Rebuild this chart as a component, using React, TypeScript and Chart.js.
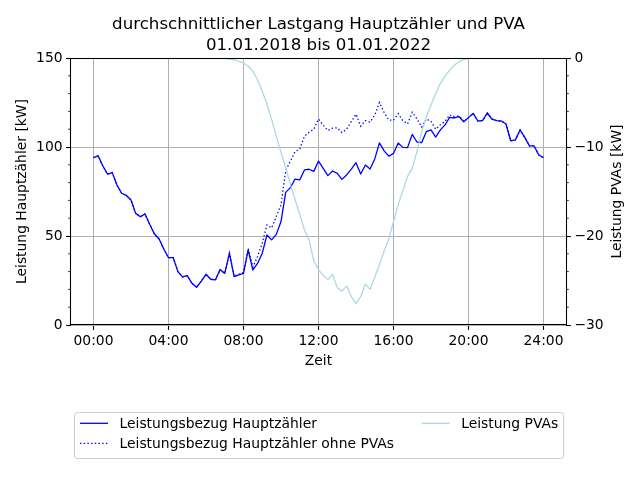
import React, { useEffect, useRef } from 'react';
import { Chart, registerables } from 'chart.js';

Chart.register(...registerables);

// ---- texts ----
const TITLE_LINES = ['durchschnittlicher Lastgang Hauptzähler und PVA', '01.01.2018 bis 01.01.2022'];
const X_LABEL = 'Zeit';
const Y_LABEL_LEFT = 'Leistung Hauptzähler [kW]';
const Y_LABEL_RIGHT = 'Leistung PVAs [kW]';
const SERIES_NAMES = [
  'Leistungsbezug Hauptzähler',
  'Leistungsbezug Hauptzähler ohne PVAs',
  'Leistung PVAs',
];

// ---- ticks (hours / kW) ----
const X_TICKS = [0, 4, 8, 12, 16, 20, 24];
const LEFT_MAJOR_STEP = 50;
const RIGHT_MAJOR_STEP = 10;

// ---- data: 15-minute values from 00:00 to 24:00 ----
const hauptzaehler = [
  94, 95, 89.3, 84.8, 85.6, 78.6, 74, 72.8, 70.2, 62.7,
  60.8, 62.4, 56.5, 51.1, 48.3, 42.7, 37.8, 37.9, 30, 27,
  27.7, 23.4, 21.2, 24.7, 28.5, 25.7, 25.3, 31.1, 29, 40.3,
  27.2, 28.1, 29, 42.1, 30.9, 34.6, 40.3, 50.6, 47.8, 50.9,
  58.1, 74.5, 77.2, 82, 81.5, 87.1, 87.5, 86.3, 92.1, 88,
  83.9, 86.5, 85.2, 81.8, 84.3, 87.6, 91.2, 84.8, 89.9, 87.6,
  93.3, 102.3, 97.8, 94.9, 96.4, 102.2, 99.8, 99.7, 107.1, 102.8,
  102.4, 108.6, 109.6, 105.6, 109.6, 112.4, 116.7, 116.3, 117, 114.2,
  116.5, 118.9, 114.6, 114.8, 119.1, 115.7, 114.8, 114.6, 112.9, 103.5,
  104, 109.6, 105.4, 100.6, 100.6, 95.5, 94,
];

const ohnePVA = [
  94, 95, 89.3, 84.8, 85.6, 78.6, 74, 72.8, 70.2, 62.7,
  60.8, 62.4, 56.5, 51.1, 48.3, 42.7, 37.8, 37.9, 30, 27,
  27.7, 23.4, 21.2, 24.7, 28.5, 25.7, 25.3, 31.1, 29, 40.4,
  27.4, 28.5, 29.6, 43, 32.5, 38.5, 46, 56.2, 54.5, 61,
  67.5, 86.8, 92, 97.5, 98.9, 106, 108.3, 110, 115.7, 112.3,
  109.3, 110.6, 110.8, 108.1, 110, 114.3, 118.4, 111.7, 114.8, 114,
  117.9, 125, 119.4, 115.2, 115, 118.7, 114.8, 113, 119.5, 115.8,
  111.2, 115.8, 114.4, 110, 112.5, 114.4, 118, 117.1, 117.4, 114.3,
  116.5, 118.9, 114.6, 114.8, 119.1, 115.7, 114.8, 114.6, 112.9, 103.5,
  104, 109.6, 105.4, 100.6, 100.6, 95.5, 94,
];

const pva = [
  0, 0, 0, 0, 0, 0, 0, 0, 0, 0,
  0, 0, 0, 0, 0, 0, 0, 0, 0, 0,
  0, 0, 0, 0, 0, 0, 0, 0, -0.05, -0.12,
  -0.22, -0.38, -0.56, -0.93, -1.5, -2.45, -3.7, -5.2, -6.9, -8.8,
  -10.6, -12.3, -14.2, -15.9, -17.6, -19.3, -20.5, -22.8, -23.8, -24.4,
  -24.9, -24.3, -25.8, -26.2, -25.6, -26.8, -27.6, -26.8, -25.4, -26,
  -24.6, -23.2, -21.7, -20.3, -18.4, -16.5, -14.9, -13.3, -12.4, -10.5,
  -8.3, -6.6, -5.3, -4.0, -2.85, -2.0, -1.35, -0.8, -0.4, -0.15,
  -0.03, 0, 0, 0, 0, 0, 0, 0, 0, 0,
  0, 0, 0, 0, 0, 0, 0,
];

// time of each value in hours (15-minute steps)
const zeitpunkte = hauptzaehler.map((_, i) => i / 4);

const COLOR_MAIN = '#0000ff';
const COLOR_PV = '#add8e6';
const FONT = '"DejaVu Sans", sans-serif';
const TICK_FONT_SIZE = 13.89;
const DOT_DASH = [1.4, 2.3];

const toPoints = (arr: number[]) => zeitpunkte.map((x, i) => ({ x, y: arr[i] }));

const fmtHour = (v: number) => `${String(v).padStart(2, '0')}:00`;
const fmtMinus = (v: number) => (v < 0 ? '\u2212' + Math.abs(v) : String(v));

const decorPlugin = {
  id: 'decor',
  beforeDraw(chart: any) {
    const { ctx, width, height } = chart;
    ctx.save();
    ctx.fillStyle = '#ffffff';
    ctx.fillRect(0, 0, width, height);
    ctx.restore();
  },
  afterDatasetsDraw(chart: any) {
    const { ctx, chartArea: a } = chart;
    const y = chart.scales.y;
    const y2 = chart.scales.y2;
    ctx.save();
    // minor ticks
    ctx.strokeStyle = '#000';
    ctx.lineWidth = 0.83;
    for (let v = y.min; v <= y.max; v += 10) {
      if (v % LEFT_MAJOR_STEP === 0) continue;
      const p = y.getPixelForValue(v);
      ctx.beginPath();
      ctx.moveTo(a.left - 2.8, p);
      ctx.lineTo(a.left, p);
      ctx.stroke();
    }
    for (let v = y2.min; v <= y2.max; v += 2) {
      if (v % RIGHT_MAJOR_STEP === 0) continue;
      const p = y2.getPixelForValue(v);
      ctx.beginPath();
      ctx.moveTo(a.right, p);
      ctx.lineTo(a.right + 2.8, p);
      ctx.stroke();
    }
    // frame (spines above the lines), pixel aligned
    const x0 = Math.round(a.left) - 0.5;
    const x1 = Math.round(a.right) + 0.5;
    const y0 = Math.round(a.top) + 0.5;
    const y1 = Math.round(a.bottom) - 0.5;
    ctx.lineWidth = 1.05;
    ctx.strokeRect(x0, y0, x1 - x0, y1 - y0);
    ctx.restore();
  },
  afterDraw(chart: any) {
    const { ctx, chartArea: a } = chart;
    const cx = (a.left + a.right) / 2;
    const cy = (a.top + a.bottom) / 2;
    ctx.save();
    ctx.fillStyle = '#000';
    ctx.textBaseline = 'alphabetic';
    ctx.textAlign = 'center';
    ctx.font = `16.67px ${FONT}`;
    ctx.fillText(TITLE_LINES[0], cx, 28.5);
    ctx.fillText(TITLE_LINES[1], cx, 50);

    ctx.font = `${TICK_FONT_SIZE}px ${FONT}`;
    ctx.fillText(X_LABEL, cx, 365);

    ctx.save();
    ctx.translate(26, cy);
    ctx.rotate(-Math.PI / 2);
    ctx.fillText(Y_LABEL_LEFT, 0, 0);
    ctx.restore();

    ctx.save();
    ctx.translate(620.5, cy);
    ctx.rotate(-Math.PI / 2);
    ctx.fillText(Y_LABEL_RIGHT, 0, 0);
    ctx.restore();

    // legend
    const lx = 74.5, ly = 412.5, lw = 489, lh = 46, r = 3;
    ctx.beginPath();
    ctx.moveTo(lx + r, ly);
    ctx.lineTo(lx + lw - r, ly);
    ctx.arcTo(lx + lw, ly, lx + lw, ly + r, r);
    ctx.lineTo(lx + lw, ly + lh - r);
    ctx.arcTo(lx + lw, ly + lh, lx + lw - r, ly + lh, r);
    ctx.lineTo(lx + r, ly + lh);
    ctx.arcTo(lx, ly + lh, lx, ly + lh - r, r);
    ctx.lineTo(lx, ly + r);
    ctx.arcTo(lx, ly, lx + r, ly, r);
    ctx.closePath();
    ctx.fillStyle = 'rgba(255,255,255,0.8)';
    ctx.fill();
    ctx.strokeStyle = '#cccccc';
    ctx.lineWidth = 1;
    ctx.stroke();

    const entries = [
      { name: SERIES_NAMES[0], x: 80, y: 423.3, color: COLOR_MAIN, dash: [] as number[] },
      { name: SERIES_NAMES[1], x: 80, y: 443.3, color: COLOR_MAIN, dash: DOT_DASH },
      { name: SERIES_NAMES[2], x: 421.7, y: 423.3, color: COLOR_PV, dash: [] as number[] },
    ];
    ctx.textAlign = 'left';
    for (const e of entries) {
      ctx.save();
      ctx.strokeStyle = e.color;
      ctx.lineWidth = 1.3;
      ctx.setLineDash(e.dash);
      ctx.beginPath();
      ctx.moveTo(e.x, e.y);
      ctx.lineTo(e.x + 28, e.y);
      ctx.stroke();
      ctx.restore();
      ctx.fillStyle = '#000';
      ctx.fillText(e.name, e.x + 39.5, e.y + 5);
    }
    ctx.restore();
  },
};

export default function App() {
  const ref = useRef<HTMLCanvasElement>(null);

  useEffect(() => {
    document.body.style.margin = '0';
    const canvas = ref.current;
    if (!canvas) return;

    const tickFont = { family: FONT, size: TICK_FONT_SIZE };

    const chart = new Chart(canvas, {
      type: 'line',
      data: {
        datasets: [
          {
            label: SERIES_NAMES[2],
            data: toPoints(pva),
            yAxisID: 'y2',
            borderColor: COLOR_PV,
            borderWidth: 1.3,
            pointRadius: 0,
            tension: 0,
            fill: false,
            borderJoinStyle: 'round',
            clip: 0,
            order: 0,
          },
          {
            label: SERIES_NAMES[1],
            data: toPoints(ohnePVA),
            yAxisID: 'y',
            borderColor: COLOR_MAIN,
            borderWidth: 1.3,
            borderDash: DOT_DASH,
            pointRadius: 0,
            tension: 0,
            fill: false,
            clip: 0,
            order: 1,
          },
          {
            label: SERIES_NAMES[0],
            data: toPoints(hauptzaehler),
            yAxisID: 'y',
            borderColor: COLOR_MAIN,
            borderWidth: 1.3,
            pointRadius: 0,
            tension: 0,
            fill: false,
            borderJoinStyle: 'round',
            clip: 0,
            order: 2,
          },
        ],
      },
      options: {
        animation: false,
        responsive: false,
        maintainAspectRatio: false,
        devicePixelRatio: 1,
        events: [],
        layout: { padding: { top: 58, left: 0, right: 0, bottom: 0 } },
        plugins: {
          legend: { display: false },
          title: { display: false },
          tooltip: { enabled: false },
        },
        scales: {
          x: {
            type: 'linear',
            min: -1.2,
            max: 25.2,
            afterBuildTicks: (s: any) => {
              s.ticks = X_TICKS.map((v) => ({ value: v }));
            },
            afterFit: (s: any) => {
              s.height = 155;
            },
            ticks: {
              callback: (v: any) => fmtHour(Number(v)),
              font: tickFont,
              color: '#000',
              padding: 3.5,
              maxRotation: 0,
              autoSkip: false,
            },
            grid: {
              color: '#b0b0b0',
              lineWidth: 1,
              tickLength: 4.9,
              tickColor: '#000',
              tickWidth: 1.1,
            },
            border: { display: false },
          },
          y: {
            type: 'linear',
            position: 'left',
            min: 0,
            max: 150,
            afterFit: (s: any) => {
              s.width = 71;
            },
            ticks: {
              stepSize: 10,
              autoSkip: false,
              callback: (v: any) => (Number(v) % LEFT_MAJOR_STEP === 0 ? String(v) : ''),
              font: tickFont,
              color: '#000',
              padding: 3.5,
            },
            grid: {
              color: (c: any) =>
                c.tick && c.tick.value % LEFT_MAJOR_STEP === 0 ? '#b0b0b0' : 'rgba(0,0,0,0)',
              lineWidth: 1,
              tickLength: 4.9,
              tickColor: (c: any) =>
                c.tick && c.tick.value % LEFT_MAJOR_STEP === 0 ? '#000' : 'rgba(0,0,0,0)',
              tickWidth: 1.1,
            },
            border: { display: false },
          },
          y2: {
            type: 'linear',
            position: 'right',
            min: -30,
            max: 0,
            afterFit: (s: any) => {
              s.width = 74;
            },
            ticks: {
              stepSize: 2,
              autoSkip: false,
              callback: (v: any) =>
                Number(v) % RIGHT_MAJOR_STEP === 0 ? fmtMinus(Number(v)) : '',
              font: tickFont,
              color: '#000',
              padding: 3.5,
            },
            grid: {
              drawOnChartArea: false,
              tickLength: 4.9,
              tickColor: (c: any) =>
                c.tick && c.tick.value % RIGHT_MAJOR_STEP === 0 ? '#000' : 'rgba(0,0,0,0)',
              tickWidth: 1.1,
            },
            border: { display: false },
          },
        },
      },
      plugins: [decorPlugin],
    } as any);

    return () => chart.destroy();
  }, []);

  return (
    <div style={{ width: 640, height: 480 }}>
      <canvas ref={ref} width={640} height={480} style={{ display: 'block' }} />
    </div>
  );
}
